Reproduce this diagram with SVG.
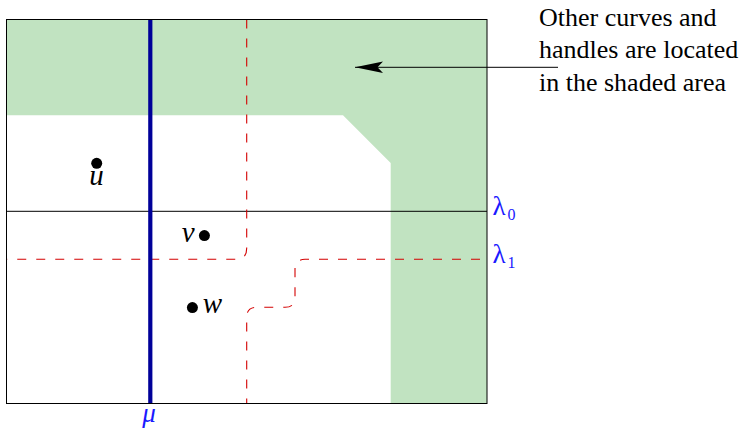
<svg xmlns="http://www.w3.org/2000/svg" width="751" height="433" viewBox="0 0 751 433">
  <style>
    .serif { font-family: "Liberation Serif", "Times New Roman", serif; }
    .math { font-family: "Liberation Serif", "Times New Roman", serif; font-style: italic; fill: #000; }
    .blue { fill: #1a1aff; }
    .note { font-size: 26px; fill: #000; }
    .dash { fill: none; stroke: #d40000; stroke-width: 1.1; stroke-dasharray: 9 10; }
    .dot { fill: #000; }
  </style>
  <defs>
    <marker id="stealth" markerUnits="userSpaceOnUse" orient="auto" refX="0" refY="0" markerWidth="30" markerHeight="14" overflow="visible">
      <path d="M0,0 L-28,-5.8 L-22.5,0 L-28,5.8 Z" fill="#000"/>
    </marker>
  </defs>

  <g id="shaded-area">
    <path d="M6.5,19.5 H487 V403.5 H390.7 V163 L343,115.3 H6.5 Z" fill="#c1e3c1"/>
  </g>

  <g id="curves">
    <line id="lambda0-line" x1="6.5" y1="211.3" x2="487" y2="211.3" stroke="#000" stroke-width="1"/>
    <path id="curve-a" class="dash" d="M246.7,19.5 V248.3 Q246.7,259.3 235.7,259.3 H6.5"/>
    <path id="curve-b" class="dash" d="M480,259.3 H305 Q295,259.3 295,269.3 V297.3 Q295,307.3 285,307.3 H256.7 Q246.7,307.3 246.7,317.3 V403.5"/>
    <line id="mu-line" x1="150.3" y1="19.5" x2="150.3" y2="403.5" stroke="#000099" stroke-width="4.2"/>
  </g>

  <g id="frame">
    <rect x="6.5" y="19.5" width="480.5" height="384" fill="none" stroke="#000" stroke-width="1"/>
  </g>

  <g id="point-u">
    <circle class="dot" cx="96.7" cy="163.3" r="5.5"/>
    <text class="math" x="96.5" y="185" font-size="29" text-anchor="middle">u</text>
  </g>
  <g id="point-v">
    <circle class="dot" cx="204.4" cy="235.6" r="5.5"/>
    <text class="math" x="188.3" y="241.5" font-size="29" text-anchor="middle">v</text>
  </g>
  <g id="point-w">
    <circle class="dot" cx="192.4" cy="307.6" r="5.5"/>
    <text class="math" x="212.5" y="313.3" font-size="29" text-anchor="middle">w</text>
  </g>

  <g id="label-mu">
    <text class="math blue" x="149" y="421.5" font-size="27" text-anchor="middle">μ</text>
  </g>
  <g id="label-lambda0">
    <text class="serif blue" x="492.5" y="215" font-size="27">λ<tspan font-size="16" dx="2" dy="4.5">0</tspan></text>
  </g>
  <g id="label-lambda1">
    <text class="serif blue" x="492.5" y="263" font-size="27">λ<tspan font-size="16" dx="2" dy="4.5">1</tspan></text>
  </g>

  <g id="note">
    <text class="serif note" x="539" y="26">Other curves and</text>
    <text class="serif note" x="539" y="58">handles are located</text>
    <text class="serif note" x="539" y="91">in the shaded area</text>
  </g>

  <g id="connectors">
    <line x1="558" y1="67.3" x2="355" y2="67.3" stroke="#000" stroke-width="1" marker-end="url(#stealth)"/>
  </g>
</svg>
